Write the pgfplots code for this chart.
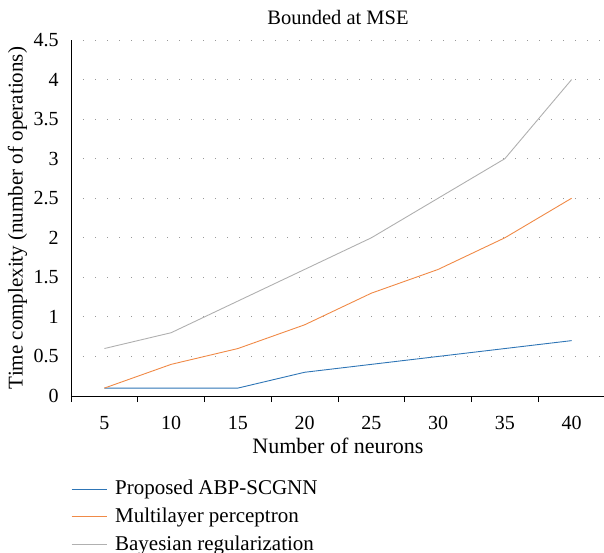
\documentclass[border=0pt]{standalone}
\usepackage{fontspec}
\setmainfont{Liberation Serif}
\usepackage{pgfplots}
\pgfplotsset{compat=1.18}

\definecolor{abpblue}{HTML}{2E75B6}
\definecolor{mlporange}{HTML}{F08A47}
\definecolor{bayesgray}{HTML}{B0B0B0}
\newcommand\tl{\fontsize{20}{24}\selectfont}

\begin{document}
\fontsize{21}{25}\selectfont
\begin{tikzpicture}[font=\fontsize{21}{25}\selectfont]
\path[use as bounding box] (-71pt,-156pt) rectangle (533pt,396pt);
\begin{axis}[
  scale only axis,
  width=534pt, height=356pt,
  xmin=-0.5, xmax=7.5,
  ymin=0, ymax=4.5,
  axis x line*=bottom,
  axis y line*=left,
  axis line style={-, black, line width=0.8pt},
  xtick={0,...,7},
  xticklabels={\tl 5,\tl 10,\tl 15,\tl 20,\tl 25,\tl 30,\tl 35,\tl 40},
  minor xtick={-0.5,0.5,...,7.5},
  major x tick style={draw=none},
  minor tick length=6pt,
  minor x tick style={black, line width=0.8pt},
  tick align=outside,
  ytick={0,0.5,...,4.5},
  yticklabel={\tl\pgfmathprintnumber{\tick}},
  major y tick style={draw=none},
  ymajorgrids=true,
  grid style={gray!80, line width=0.8pt, dash pattern=on 0.8pt off 11.2pt},
  /pgf/number format/assume math mode=true,
  x tick label style={yshift=-9pt},
  y tick label style={xshift=-1pt},
  title={\fontsize{20.5}{24}\selectfont Bounded at MSE},
  title style={at={(axis description cs:0.5,1.045)}, anchor=center},
  xlabel={\fontsize{22}{26}\selectfont Number of neurons},
  xlabel style={at={(axis description cs:0.5,-0.14)}, anchor=center},
  ylabel={Time complexity (number of operations)},
  ylabel style={at={(axis description cs:-0.1,0.5)}, anchor=center},
  legend style={at={(axis description cs:0,0)}, anchor=north west,
    yshift=-82pt, draw=none, inner sep=0pt, row sep=6pt,
    /tikz/every odd column/.append style={column sep=6pt}},
  legend cell align=left,
]
\addplot[color=abpblue, line width=0.9pt, forget plot] coordinates {
  (0,0.1) (1,0.1) (2,0.1) (3,0.3) (4,0.4) (5,0.5) (6,0.6) (7,0.7)
};
\addplot[color=mlporange, line width=0.9pt, forget plot] coordinates {
  (0,0.1) (1,0.4) (2,0.6) (3,0.9) (4,1.3) (5,1.6) (6,2.0) (7,2.5)
};
\addplot[color=bayesgray, line width=0.9pt, forget plot] coordinates {
  (0,0.6) (1,0.8) (2,1.2) (3,1.6) (4,2.0) (5,2.5) (6,3.0) (7,4.0)
};
\addlegendimage{legend image code/.code={\draw[color=abpblue, line width=0.9pt] (0pt,0pt) -- (35pt,0pt);}}
\addlegendentry{Proposed ABP-SCGNN}
\addlegendimage{legend image code/.code={\draw[color=mlporange, line width=0.9pt] (0pt,0pt) -- (35pt,0pt);}}
\addlegendentry{Multilayer perceptron}
\addlegendimage{legend image code/.code={\draw[color=bayesgray, line width=0.9pt] (0pt,0pt) -- (35pt,0pt);}}
\addlegendentry{Bayesian regularization}
\end{axis}
\end{tikzpicture}
\end{document}
